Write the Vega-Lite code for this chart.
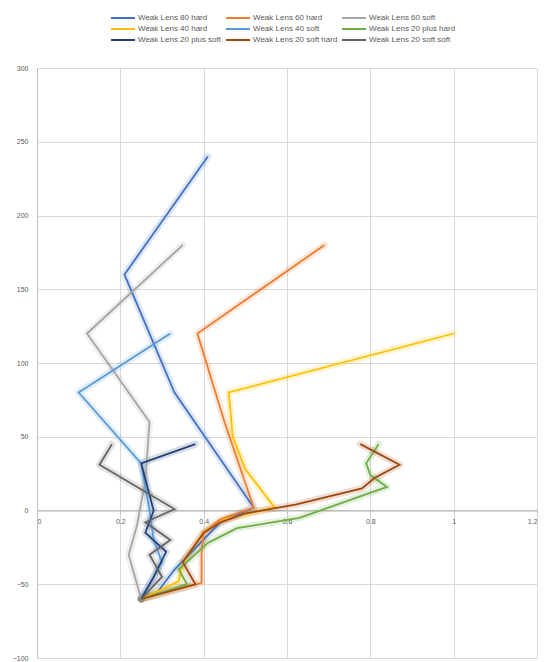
{
  "$schema": "https://vega.github.io/schema/vega-lite/v6.json",
  "width": 500,
  "height": 590,
  "autosize": {"type": "none"},
  "padding": {"left": 37, "top": 68, "right": 10, "bottom": 4},
  "background": "white",
  "config": {
    "font": "Liberation Sans",
    "view": {"stroke": null},
    "axis": {"gridColor": "#d9d9d9", "gridWidth": 1, "domainColor": "#bfbfbf", "tickColor": "#bfbfbf", "labelColor": "#595959", "labelFontSize": 7, "title": null}
  },
  "data": {"values": [
    {"s":"Weak Lens 80 hard","i":1,"x":0.41,"y":240},
    {"s":"Weak Lens 80 hard","i":2,"x":0.21,"y":160},
    {"s":"Weak Lens 80 hard","i":3,"x":0.33,"y":80},
    {"s":"Weak Lens 80 hard","i":4,"x":0.52,"y":2},
    {"s":"Weak Lens 80 hard","i":5,"x":0.44,"y":-8},
    {"s":"Weak Lens 80 hard","i":6,"x":0.33,"y":-40},
    {"s":"Weak Lens 80 hard","i":7,"x":0.29,"y":-55},
    {"s":"Weak Lens 80 hard","i":8,"x":0.25,"y":-60},

    {"s":"Weak Lens 60 hard","i":1,"x":0.69,"y":180},
    {"s":"Weak Lens 60 hard","i":2,"x":0.385,"y":120},
    {"s":"Weak Lens 60 hard","i":3,"x":0.45,"y":60},
    {"s":"Weak Lens 60 hard","i":4,"x":0.52,"y":2},
    {"s":"Weak Lens 60 hard","i":5,"x":0.44,"y":-6},
    {"s":"Weak Lens 60 hard","i":6,"x":0.40,"y":-15},
    {"s":"Weak Lens 60 hard","i":7,"x":0.395,"y":-28},
    {"s":"Weak Lens 60 hard","i":8,"x":0.395,"y":-49},
    {"s":"Weak Lens 60 hard","i":9,"x":0.25,"y":-60},

    {"s":"Weak Lens 60 soft","i":1,"x":0.35,"y":180},
    {"s":"Weak Lens 60 soft","i":2,"x":0.12,"y":120},
    {"s":"Weak Lens 60 soft","i":3,"x":0.27,"y":60},
    {"s":"Weak Lens 60 soft","i":4,"x":0.26,"y":20},
    {"s":"Weak Lens 60 soft","i":5,"x":0.24,"y":-10},
    {"s":"Weak Lens 60 soft","i":6,"x":0.22,"y":-30},
    {"s":"Weak Lens 60 soft","i":7,"x":0.24,"y":-50},
    {"s":"Weak Lens 60 soft","i":8,"x":0.25,"y":-60},

    {"s":"Weak Lens 40 hard","i":1,"x":1.0,"y":120},
    {"s":"Weak Lens 40 hard","i":2,"x":0.46,"y":80},
    {"s":"Weak Lens 40 hard","i":3,"x":0.47,"y":50},
    {"s":"Weak Lens 40 hard","i":4,"x":0.50,"y":28},
    {"s":"Weak Lens 40 hard","i":5,"x":0.57,"y":2},
    {"s":"Weak Lens 40 hard","i":6,"x":0.45,"y":-6},
    {"s":"Weak Lens 40 hard","i":7,"x":0.40,"y":-15},
    {"s":"Weak Lens 40 hard","i":8,"x":0.35,"y":-35},
    {"s":"Weak Lens 40 hard","i":9,"x":0.34,"y":-48},
    {"s":"Weak Lens 40 hard","i":10,"x":0.25,"y":-60},

    {"s":"Weak Lens 40 soft","i":1,"x":0.32,"y":120},
    {"s":"Weak Lens 40 soft","i":2,"x":0.10,"y":80},
    {"s":"Weak Lens 40 soft","i":3,"x":0.25,"y":32},
    {"s":"Weak Lens 40 soft","i":4,"x":0.27,"y":0},
    {"s":"Weak Lens 40 soft","i":5,"x":0.28,"y":-20},
    {"s":"Weak Lens 40 soft","i":6,"x":0.30,"y":-35},
    {"s":"Weak Lens 40 soft","i":7,"x":0.27,"y":-50},
    {"s":"Weak Lens 40 soft","i":8,"x":0.25,"y":-60},

    {"s":"Weak Lens 20 plus hard","i":1,"x":0.82,"y":45},
    {"s":"Weak Lens 20 plus hard","i":2,"x":0.79,"y":32},
    {"s":"Weak Lens 20 plus hard","i":3,"x":0.80,"y":24},
    {"s":"Weak Lens 20 plus hard","i":4,"x":0.84,"y":16},
    {"s":"Weak Lens 20 plus hard","i":5,"x":0.63,"y":-5},
    {"s":"Weak Lens 20 plus hard","i":6,"x":0.48,"y":-12},
    {"s":"Weak Lens 20 plus hard","i":7,"x":0.41,"y":-22},
    {"s":"Weak Lens 20 plus hard","i":8,"x":0.34,"y":-40},
    {"s":"Weak Lens 20 plus hard","i":9,"x":0.36,"y":-50},
    {"s":"Weak Lens 20 plus hard","i":10,"x":0.25,"y":-60},

    {"s":"Weak Lens 20 plus soft","i":1,"x":0.38,"y":45},
    {"s":"Weak Lens 20 plus soft","i":2,"x":0.25,"y":32},
    {"s":"Weak Lens 20 plus soft","i":3,"x":0.28,"y":0},
    {"s":"Weak Lens 20 plus soft","i":4,"x":0.26,"y":-15},
    {"s":"Weak Lens 20 plus soft","i":5,"x":0.31,"y":-28},
    {"s":"Weak Lens 20 plus soft","i":6,"x":0.28,"y":-45},
    {"s":"Weak Lens 20 plus soft","i":7,"x":0.25,"y":-60},

    {"s":"Weak Lens 20 soft hard","i":1,"x":0.776,"y":45},
    {"s":"Weak Lens 20 soft hard","i":2,"x":0.87,"y":31},
    {"s":"Weak Lens 20 soft hard","i":3,"x":0.81,"y":22},
    {"s":"Weak Lens 20 soft hard","i":4,"x":0.78,"y":15},
    {"s":"Weak Lens 20 soft hard","i":5,"x":0.62,"y":4},
    {"s":"Weak Lens 20 soft hard","i":6,"x":0.50,"y":-2},
    {"s":"Weak Lens 20 soft hard","i":7,"x":0.44,"y":-8},
    {"s":"Weak Lens 20 soft hard","i":8,"x":0.40,"y":-15},
    {"s":"Weak Lens 20 soft hard","i":9,"x":0.35,"y":-35},
    {"s":"Weak Lens 20 soft hard","i":10,"x":0.38,"y":-50},
    {"s":"Weak Lens 20 soft hard","i":11,"x":0.25,"y":-60},

    {"s":"Weak Lens 20 soft soft","i":1,"x":0.18,"y":45},
    {"s":"Weak Lens 20 soft soft","i":2,"x":0.15,"y":31},
    {"s":"Weak Lens 20 soft soft","i":3,"x":0.33,"y":1},
    {"s":"Weak Lens 20 soft soft","i":4,"x":0.26,"y":-8},
    {"s":"Weak Lens 20 soft soft","i":5,"x":0.32,"y":-20},
    {"s":"Weak Lens 20 soft soft","i":6,"x":0.27,"y":-30},
    {"s":"Weak Lens 20 soft soft","i":7,"x":0.30,"y":-45},
    {"s":"Weak Lens 20 soft soft","i":8,"x":0.25,"y":-60}
  ]},
  "encoding": {
    "x": {"field": "x", "type": "quantitative", "scale": {"domain": [0, 1.2], "nice": false},
      "axis": {"values": [0, 0.2, 0.4, 0.6, 0.8, 1, 1.2], "format": "~g", "offset": -148, "tickSize": 4, "labelPadding": 3, "grid": true}},
    "y": {"field": "y", "type": "quantitative", "scale": {"domain": [-100, 300], "nice": false},
      "axis": {"values": [-100, -50, 0, 50, 100, 150, 200, 250, 300], "tickSize": 0, "labelPadding": 9, "grid": true}},
    "color": {"field": "s", "type": "nominal",
      "scale": {
        "domain": ["Weak Lens 80 hard", "Weak Lens 40 hard", "Weak Lens 20 plus soft", "Weak Lens 60 hard", "Weak Lens 40 soft", "Weak Lens 20 soft hard", "Weak Lens 60 soft", "Weak Lens 20 plus hard", "Weak Lens 20 soft soft"],
        "range": ["#4472C4", "#FFC000", "#264478", "#ED7D31", "#5B9BD5", "#9E480E", "#A5A5A5", "#70AD47", "#636363"]
      },
      "legend": {"title": null, "orient": "none", "legendX": 73, "legendY": -57, "columns": 3, "symbolType": "M-1,0H3", "symbolSize": 144, "symbolStrokeWidth": 2, "symbolOpacity": 1, "labelFontSize": 8, "labelColor": "#595959", "labelOffset": 14, "columnPadding": 0, "rowPadding": 0}
    },
    "order": {"field": "i", "type": "quantitative"}
  },
  "layer": [
    {"mark": {"type": "line", "strokeWidth": 7, "opacity": 0.18, "strokeCap": "round", "strokeJoin": "round"}},
    {"mark": {"type": "line", "strokeWidth": 1.8, "strokeJoin": "miter"}}
  ]
}
